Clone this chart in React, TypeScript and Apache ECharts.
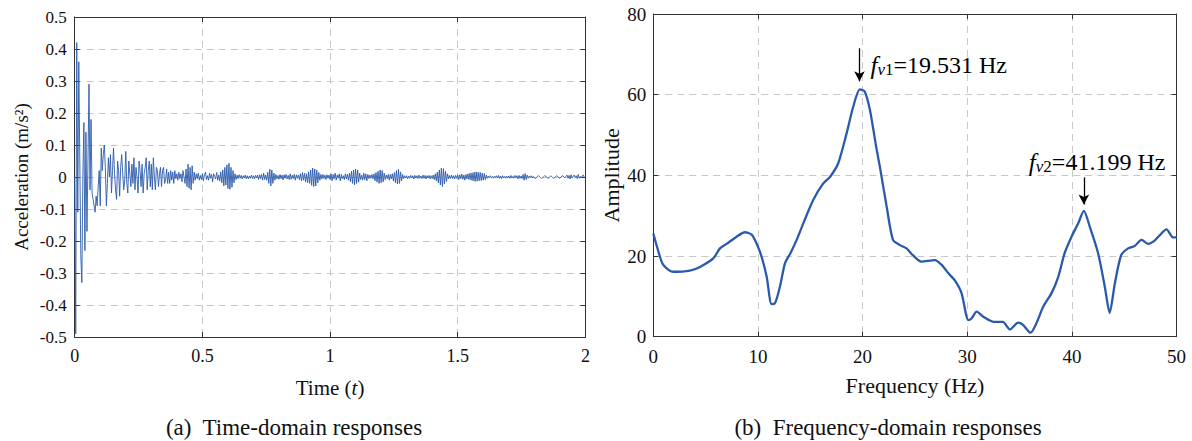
import React, { useEffect, useRef } from "react";
import * as echarts from "echarts";

// ---- Time-domain data (sampled every sampleStep seconds, from t = 0 to 2 s) ----
const sampleStep = 0.004;
const accel: number[] = [
  // 0.000 - 0.096
  0, -0.49, 0.42, -0.11, 0.36, 0.05, -0.25, -0.33, 0.0, 0.17, -0.23, 0.14, -0.17, 0.05, 0.29, -0.04, 0.18, -0.05, -0.07, -0.09, -0.11, -0.06, -0.09, -0.03, 0.02,
  // 0.100 - 0.196
  -0.09, 0.09, 0.02, 0.07, 0.1, 0.03, -0.09, -0.02, 0.06, 0.0, 0.07, -0.05, 0.02, 0.09, 0.01, -0.04, -0.07, 0.05, 0.02, -0.06, 0.03, 0.07, 0.01, -0.04, -0.01,
  // 0.200 - 0.296
  0.08, -0.02, -0.05, 0.05, 0.01, -0.03, 0.04, -0.02, 0.06, -0.04, 0.03, 0.0, -0.05, 0.05, 0.02, -0.03, 0.04, -0.05, 0.01, 0.03, 0.06, -0.04, 0.02, 0.05, -0.03,
  // 0.300 - 0.396
  0.04, -0.04, 0.06, 0.0, -0.04, 0.03, 0.02, -0.03, 0.01, 0.03, -0.03, 0.02, 0.03, -0.02, -0.01, 0.025, -0.02, 0.015, -0.02, 0.02, -0.01, 0.015, -0.02, 0.02, -0.005,
  // 0.400 - 0.496
  0.01, -0.01, 0.015, -0.005, 0.01, -0.015, 0.02, 0.0, -0.02, 0.025, -0.03, 0.04, -0.035, 0.03, -0.04, 0.035, -0.02, 0.015, -0.01, 0.01, -0.005, 0.012, -0.01, 0.005, -0.008,
  // 0.500 - 0.596
  0.01, -0.012, 0.006, 0.015, -0.008, 0.004, -0.01, 0.012, -0.004, 0.008, -0.015, 0.01, 0.002, -0.006, 0.014, -0.01, 0.006, -0.012, 0.016, -0.018, 0.022, -0.028, 0.03, -0.025, 0.038,
  // 0.600 - 0.696
  -0.036, 0.043, -0.038, 0.03, -0.032, 0.02, -0.018, 0.01, -0.008, 0.006, -0.005, 0.007, -0.004, 0.005, -0.006, 0.004, -0.003, 0.006, -0.005, 0.004, -0.006, 0.003, -0.004, 0.006, -0.005,
  // 0.700 - 0.796
  0.004, -0.006, 0.005, -0.003, 0.006, -0.008, 0.007, -0.005, 0.008, -0.01, 0.012, -0.008, 0.006, -0.01, 0.015, -0.02, 0.024, -0.028, 0.022, -0.02, 0.012, -0.01, 0.008, -0.006, 0.005,
  // 0.800 - 0.896
  -0.007, 0.008, -0.005, 0.006, -0.009, 0.007, -0.004, 0.008, -0.006, 0.005, -0.008, 0.01, -0.007, 0.006, -0.005, 0.008, -0.01, 0.007, -0.004, 0.006, -0.008, 0.01, -0.012, 0.014, -0.01,
  // 0.900 - 0.996
  0.012, -0.015, 0.01, -0.018, 0.016, -0.02, 0.022, -0.026, 0.028, -0.03, 0.025, -0.028, 0.022, -0.018, 0.014, -0.01, 0.008, -0.006, 0.008, -0.005, 0.006, -0.008, 0.007, -0.004, 0.006,
  // 1.000 - 1.096
  -0.008, 0.01, -0.012, 0.008, -0.006, 0.012, -0.01, 0.006, -0.004, 0.01, -0.012, 0.008, -0.006, 0.004, -0.008, 0.01, -0.006, 0.008, -0.01, 0.012, -0.015, 0.018, -0.02, 0.022, -0.024,
  // 1.100 - 1.196
  0.025, -0.02, 0.022, -0.016, 0.012, -0.008, 0.006, -0.01, 0.012, -0.008, 0.01, -0.012, 0.008, -0.005, 0.006, -0.004, 0.008, -0.006, 0.01, -0.012, 0.014, -0.016, 0.018, -0.02, 0.022,
  // 1.200 - 1.296
  -0.018, 0.02, -0.015, 0.012, -0.008, 0.006, -0.005, 0.008, -0.01, 0.008, -0.006, 0.01, -0.012, 0.014, -0.018, 0.02, -0.022, 0.024, -0.02, 0.016, -0.012, 0.008, -0.005, 0.004, -0.003,
  // 1.300 - 1.396
  0.004, -0.005, 0.003, -0.004, 0.005, -0.003, 0.004, -0.006, 0.005, -0.003, 0.004, -0.005, 0.006, -0.004, 0.003, -0.005, 0.006, -0.004, 0.005, -0.006, 0.004, -0.003, 0.005, -0.006, 0.004,
  // 1.400 - 1.496
  -0.005, 0.006, -0.008, 0.01, -0.012, 0.015, -0.018, 0.022, -0.025, 0.028, -0.03, 0.026, -0.022, 0.018, -0.014, 0.01, -0.006, 0.005, -0.004, 0.006, -0.005, 0.004, -0.006, 0.005, -0.004,
  // 1.500 - 1.596
  0.006, -0.008, 0.007, -0.005, 0.009, -0.007, 0.006, -0.01, 0.008, -0.006, 0.01, -0.008, 0.012, -0.01, 0.013, -0.012, 0.015, -0.014, 0.016, -0.013, 0.015, -0.012, 0.014, -0.011, 0.012,
  // 1.600 - 1.696
  -0.01, 0.011, -0.008, 0.006, -0.004, 0.003, -0.002, 0.004, -0.003, 0.002, -0.004, 0.003, -0.002, 0.004, -0.003, 0.005, -0.004, 0.003, -0.005, 0.004, -0.003, 0.002, -0.004, 0.003, -0.002,
  // 1.700 - 1.796
  0.003, -0.004, 0.005, -0.003, 0.002, -0.004, 0.005, -0.003, 0.004, -0.006, 0.005, -0.004, 0.003, -0.005, 0.008, -0.01, 0.011, -0.008, 0.006, -0.004, 0.003, -0.002, 0.004, -0.003, 0.002,
  // 1.800 - 1.896
  -0.003, -0.005, -0.002, 0.002, 0.004, 0.002, -0.002, -0.004, -0.003, 0.001, 0.004, 0.003, -0.001, -0.004, -0.003, 0.001, 0.003, 0.002, -0.002, -0.004, -0.002, 0.002, 0.004, 0.001, -0.002,
  // 1.900 - 2.000
  -0.004, -0.001, 0.003, 0.004, 0.0, -0.003, 0.002, 0.006, -0.004, 0.005, -0.006, 0.007, -0.003, 0.002, 0.006, -0.002, 0.004, -0.005, 0.008, -0.004, 0.002, -0.003, 0.004, 0.006, -0.002, 0.001,
];

// ---- Frequency-domain data ----
const freqHz: number[] = [
  0, 0.64, 0.96, 1.9, 3.5, 4.46, 5.73, 6.37, 7.0, 7.96, 8.76, 9.4, 9.87, 10.35, 10.83, 11.3, 11.6, 12.1, 12.58, 13.1,
  13.7, 14.33, 15.28, 16.24, 16.88, 17.67, 18.47, 19.1, 19.74, 20.2, 20.7, 21.3, 21.65, 22.3, 22.9, 23.56, 24.2, 24.8, 25.6, 26.9,
  27.55, 28.2, 28.8, 29.45, 30.1, 30.4, 30.9, 31.5, 32.5, 33.4, 34.07, 34.86, 35.3, 36.05, 36.6, 37.25, 38.05, 38.7, 39.3, 39.96,
  40.6, 41.14, 41.7, 42.5, 43.14, 43.6, 44.1, 44.7, 45.37, 46.0, 46.65, 47.3, 47.9, 48.4, 49.03, 49.67, 50,
];
const amplitude: number[] = [
  25.6, 19.8, 17.8, 16.1, 16.4, 17.3, 19.4, 21.9, 23, 24.8, 25.9, 25.3, 23.1, 19.8, 14.9, 8.1, 8.2, 12.4, 18.2, 20.7,
  24, 28.1, 33.9, 38, 39.6, 43, 50.4, 57, 61.3, 60.8, 56.2, 47, 42.1, 32.2, 24, 22.7, 21.9, 20.2, 18.6, 19,
  17.8, 15.7, 14, 10.8, 4.1, 4.5, 6.2, 5, 3.7, 3.7, 1.8, 3.5, 3.0, 1.0, 3.3, 7.4, 10.8, 14.9, 20.7, 24.8,
  28.1, 31.2, 27.3, 20.7, 12.4, 5.9, 13.2, 20.2, 21.9, 22.5, 24, 23, 23.8, 25.2, 26.6, 24.6, 24.6,
];

// Peak annotations
const peakLabels = [
  { freq: 19.7, arrowTop: 71.5, arrowTip: 63.3, sub: "1", value: "=19.531 Hz" },
  { freq: 41.14, arrowTop: 39.5, arrowTip: 32.8, sub: "2", value: "=41.199 Hz" },
];

const timeTicks = { min: 0, max: 2, interval: 0.5 };
const accelTicks = { min: -0.5, max: 0.5, interval: 0.1 };
const freqTicks = { min: 0, max: 50, interval: 10 };
const ampTicks = { min: 0, max: 80, interval: 20 };

const SERIF = "Liberation Serif";
const LINE_BLUE = "#2b5aac";
const FRAME = "#333333";
const GRID_LINE = "#c8c8c8";
const INK = "#111111";

const serifRich = (size: number, extra: any = {}) => ({
  s: { fontFamily: SERIF, fontSize: size, color: INK, ...extra },
  i: { fontFamily: SERIF, fontSize: size, color: INK, fontStyle: "italic" },
});

function frameAxis(extra: any) {
  return {
    type: "value",
    axisLine: { show: true, onZero: false, lineStyle: { color: FRAME, width: 1 } },
    axisTick: { show: true, inside: true, length: 5, lineStyle: { color: FRAME } },
    axisLabel: { show: false },
    splitLine: { show: false },
    ...extra,
  };
}

function mainAxis(labelSize: number, labelMargin: number, extra: any) {
  return {
    type: "value",
    axisLine: { show: true, onZero: false, lineStyle: { color: FRAME, width: 1 } },
    axisTick: { show: true, inside: true, length: 5, lineStyle: { color: FRAME } },
    axisLabel: {
      show: true,
      margin: labelMargin,
      fontFamily: SERIF,
      fontSize: labelSize,
      color: INK,
      formatter: (v: number) => `{s|${Number(v.toFixed(3))}}`,
      rich: serifRich(labelSize),
    },
    splitLine: { show: true, lineStyle: { color: GRID_LINE, type: [7, 5], width: 1 } },
    nameLocation: "middle",
    ...extra,
  };
}

export default function App() {
  const ref = useRef<HTMLDivElement>(null);

  useEffect(() => {
    if (!ref.current) return;
    const chart = echarts.init(ref.current, null, { renderer: "svg" });

    const timeSeries = accel.map((a, i) => [Number((i * sampleStep).toFixed(3)), a]);
    const freqSeries = freqHz.map((f, i) => [f, amplitude[i]]);

    const option: any = {
      animation: false,
      backgroundColor: "#ffffff",
      textStyle: { fontFamily: SERIF },
      grid: [
        { left: 74.7, top: 17, width: 510.7, height: 320 },
        { left: 653.3, top: 14, width: 523.3, height: 322.7 },
      ],
      xAxis: [
        mainAxis(18, 10, {
          gridIndex: 0, position: "bottom", ...timeTicks,
          name: "{s|Time (}{i|t}{s|)}", nameGap: 40,
          nameTextStyle: { fontFamily: SERIF, fontSize: 21, color: INK, rich: serifRich(21) },
        }),
        frameAxis({ gridIndex: 0, position: "top", ...timeTicks }),
        mainAxis(19, 10, {
          gridIndex: 1, position: "bottom", ...freqTicks,
          name: "{s|Frequency (Hz)}", nameGap: 38,
          nameTextStyle: { fontFamily: SERIF, fontSize: 22, color: INK, rich: serifRich(22) },
        }),
        frameAxis({ gridIndex: 1, position: "top", ...freqTicks }),
      ],
      yAxis: [
        mainAxis(17, 8, {
          gridIndex: 0, position: "left", ...accelTicks,
          name: "{s|Acceleration (m/s²)}", nameGap: 44,
          nameTextStyle: { fontFamily: SERIF, fontSize: 19, color: INK, rich: serifRich(19) },
        }),
        frameAxis({ gridIndex: 0, position: "right", ...accelTicks }),
        mainAxis(19, 7, {
          gridIndex: 1, position: "left", ...ampTicks,
          name: "{s|Amplitude}", nameGap: 31,
          nameTextStyle: { fontFamily: SERIF, fontSize: 22, color: INK, rich: serifRich(22) },
        }),
        frameAxis({ gridIndex: 1, position: "right", ...ampTicks }),
      ],
      series: [
        {
          type: "line",
          xAxisIndex: 0,
          yAxisIndex: 0,
          data: timeSeries,
          showSymbol: false,
          symbol: "none",
          lineStyle: { color: LINE_BLUE, width: 0.9 },
          silent: true,
        },
        {
          type: "line",
          xAxisIndex: 2,
          yAxisIndex: 2,
          data: freqSeries,
          showSymbol: false,
          symbol: "none",
          smooth: 0.25,
          lineStyle: { color: LINE_BLUE, width: 2.3 },
          silent: true,
          markLine: {
            silent: true,
            symbol: ["none", "arrow"],
            symbolSize: [8, 10],
            label: { show: false },
            lineStyle: { color: "#000", type: "solid", width: 1.3 },
            data: peakLabels.map((p) => [
              { coord: [p.freq, p.arrowTop] },
              { coord: [p.freq, p.arrowTip] },
            ]),
          },
        },
      ],
    };

    chart.setOption(option);

    const rich = {
      f: { fontFamily: SERIF, fontSize: 25, fontStyle: "italic", color: "#000" },
      v: { fontFamily: SERIF, fontSize: 17, fontStyle: "italic", verticalAlign: "bottom", lineHeight: 14, color: "#000" },
      n: { fontFamily: SERIF, fontSize: 17, verticalAlign: "bottom", lineHeight: 14, color: "#000" },
      t: { fontFamily: SERIF, fontSize: 24, color: "#000" },
    };

    const annots = peakLabels.map((p, idx) => {
      const top = chart.convertToPixel({ gridIndex: 1 } as any, [p.freq, p.arrowTop]) as number[];
      const x = idx === 0 ? top[0] + 11 : top[0] - 55;
      const y = idx === 0 ? top[1] + 17 : top[1] - 15;
      return {
        type: "text",
        x,
        y,
        silent: true,
        style: {
          text: `{f|f}{v|v}{n|${p.sub}}{t|${p.value}}`,
          rich,
          align: "left",
          verticalAlign: "middle",
          textAlign: "left",
          textVerticalAlign: "middle",
          fill: "#000",
        },
      };
    });

    const caption = (text: string, x: number) => ({
      type: "text",
      x,
      y: 427,
      silent: true,
      style: {
        text: `{s|${text}}`,
        rich: serifRich(23),
        fill: INK,
        align: "center",
        verticalAlign: "middle",
        textAlign: "center",
        textVerticalAlign: "middle",
      },
    });

    chart.setOption({
      graphic: [
        caption("(a)  Time-domain responses", 294),
        caption("(b)  Frequency-domain responses", 888),
        ...annots,
      ],
    });

    return () => {
      chart.dispose();
    };
  }, []);

  return (
    <div
      ref={ref}
      style={{ position: "fixed", left: 0, top: 0, width: 1192, height: 441, background: "#fff" }}
    />
  );
}
